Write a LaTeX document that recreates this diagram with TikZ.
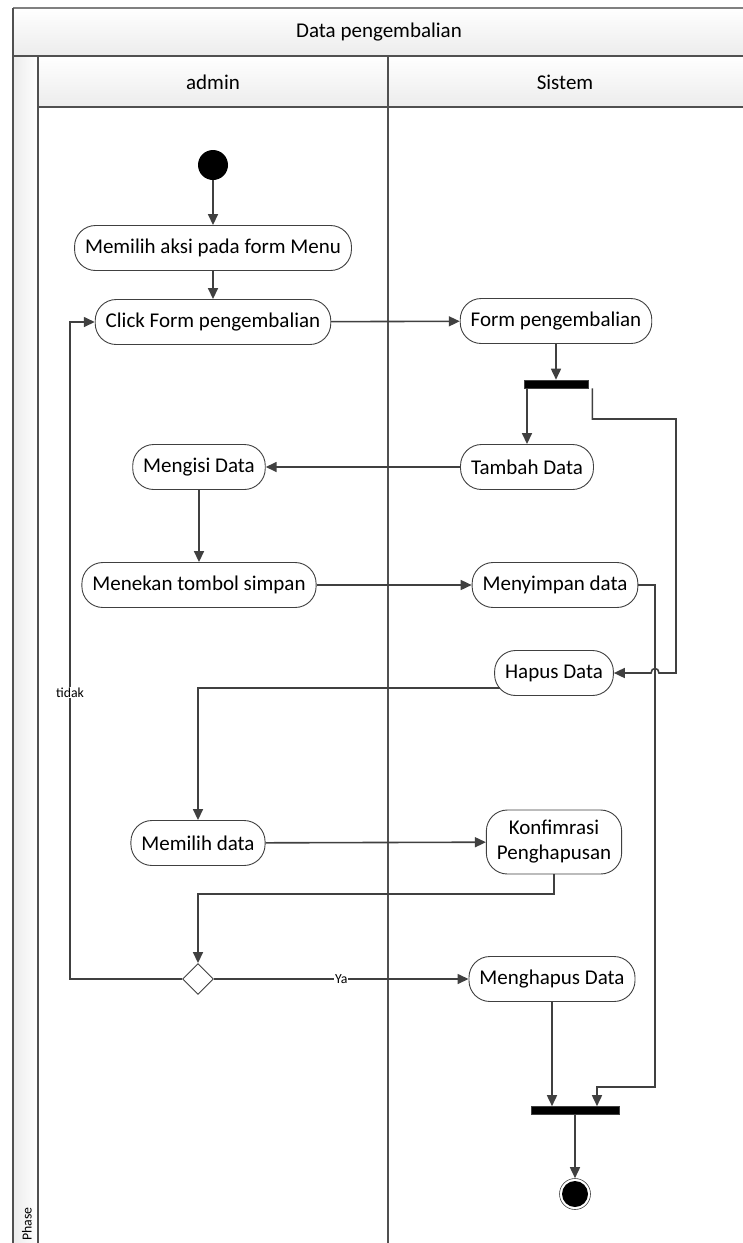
\documentclass[tikz,border=0pt]{standalone}
\usepackage{fontspec}
\setmainfont{Carlito}
\usetikzlibrary{arrows.meta,shapes.geometric,calc}
\definecolor{ln}{HTML}{404040}
\definecolor{hdr}{HTML}{ECECEC}
\definecolor{frm}{HTML}{505050}
\begin{document}
\begin{tikzpicture}[x=1pt,y=-1pt,
  act/.style={draw=ln, line width=0.9pt, rounded corners=21pt, minimum height=45pt,
    inner xsep=10.5pt, fill=white, font=\fontsize{21}{25}\selectfont, align=center},
  bar/.style={draw=ln, line width=0.6pt, fill=black, minimum height=8pt, inner sep=0pt},
  conn/.style={draw=ln, line width=1.6pt, -{Triangle[length=11pt,width=10pt]}},
  lbl/.style={fill=white, inner sep=1pt, font=\fontsize{13.8}{16}\selectfont},
  hd/.style={font=\fontsize{21}{25}\selectfont},
  frame/.style={draw=frm, line width=1.1pt}]
\useasboundingbox (0,0) rectangle (743,1243);
% ---- frame ----
\shade[top color=white, bottom color=hdr] (13,8) rectangle (743,56);
\shade[top color=white, bottom color=hdr] (38,56) rectangle (743,107);
\shade[left color=hdr, right color=white] (13,56) rectangle (38,1243);
\draw[draw=gray, line width=1.5pt] (13,8) -- (743,8);
\draw[frame] (13,8) -- (13,1243);
\draw[frame] (13,56) -- (743,56);
\draw[frame] (38,56) -- (38,1243);
\draw[frame] (38,107) -- (743,107);
\draw[frame] (388,56) -- (388,1243);
\node[hd] (title) at (379,32) {Data pengembalian};
\node[hd] (admin) at (213,82) {admin};
\node[hd] (sistem) at (565,82) {Sistem};
\node[rotate=90, font=\fontsize{13.8}{16}\selectfont] (phase) at (27,1224) {Phase};
% ---- nodes ----
\node[circle, fill=black, minimum size=30pt, inner sep=0pt] (start) at (213,165) {};
\node[act] (aksi) at (213,248) {Memilih aksi pada form Menu};
\node[act] (click) at (213,322) {Click Form pengembalian};
\node[act] (formp) at (556,321) {Form pengembalian};
\node[bar, minimum width=64pt] (fork) at (556,384) {};
\node[act] (tambah) at (527,467) {Tambah Data};
\node[act] (mengisi) at (199,467) {Mengisi Data};
\node[act] (menekan) at (199,585) {Menekan tombol simpan};
\node[act] (menyimpan) at (555,585) {Menyimpan data};
\node[act] (hapus) at (554,673) {Hapus Data};
\node[act] (memilih) at (198,843) {Memilih data};
\node[act, minimum height=64pt] (konf) at (554,842) {Konfimrasi\\Penghapusan};
\node[diamond, draw=ln, line width=0.9pt, fill=white, minimum size=31pt, inner sep=0pt] (dec) at (198,979) {};
\node[act] (hapusdata) at (552,979) {Menghapus Data};
\node[bar, minimum width=88pt] (endbar) at (575,1110.5) {};
\node[circle, draw=ln, line width=0.6pt, minimum size=31pt, inner sep=0pt,
  path picture={\fill[black] (path picture bounding box.center) circle (13pt);}] (final) at (575,1194) {};
% ---- waypoints ----
\coordinate (fkR) at (676,419);
\coordinate (hop) at (655,673);
\coordinate (mR) at (655,1087);
\coordinate (kD) at (198,894);
\coordinate (tL) at (70,979);
% ---- connectors ----
\draw[conn] (start) -- (aksi);
\draw[conn] (aksi) -- (click);
\draw[conn] (click) -- (formp);
\draw[conn] (formp.south) -- (fork.north);
\draw[conn] (fork.south -| tambah.north) -- (tambah.north);
\draw[conn] ([xshift=4pt]fork.south east) |- (fkR) |- ([xshift=4pt]hop)
  .. controls ([xshift=4pt,yshift=6pt]hop) and ([xshift=-4pt,yshift=6pt]hop) .. ([xshift=-4pt]hop)
  -- (hapus.east);
\draw[conn] (tambah) -- (mengisi);
\draw[conn] (mengisi) -- (menekan);
\draw[conn] (menekan) -- (menyimpan);
\draw[conn] (menyimpan.east) -| (mR) -| ([xshift=22pt]endbar.north);
\draw[conn] ([xshift=6pt,yshift=-15pt]hapus.west) -| (memilih.north);
\draw[conn] (memilih) -- (konf);
\draw[conn] (konf.south) |- (kD) -- (dec.north);
\draw[conn] (dec.east) -- (hapusdata.west) node[lbl, pos=0.5] {Ya};
\draw[conn] (dec.west) -- (tL) |- (click.west) node[lbl, pos=0.218] {tidak};
\draw[conn] (hapusdata.south) -- (hapusdata.south |- endbar.north);
\draw[conn] (endbar.south -| final.north) -- (final.north);
\end{tikzpicture}
\end{document}
